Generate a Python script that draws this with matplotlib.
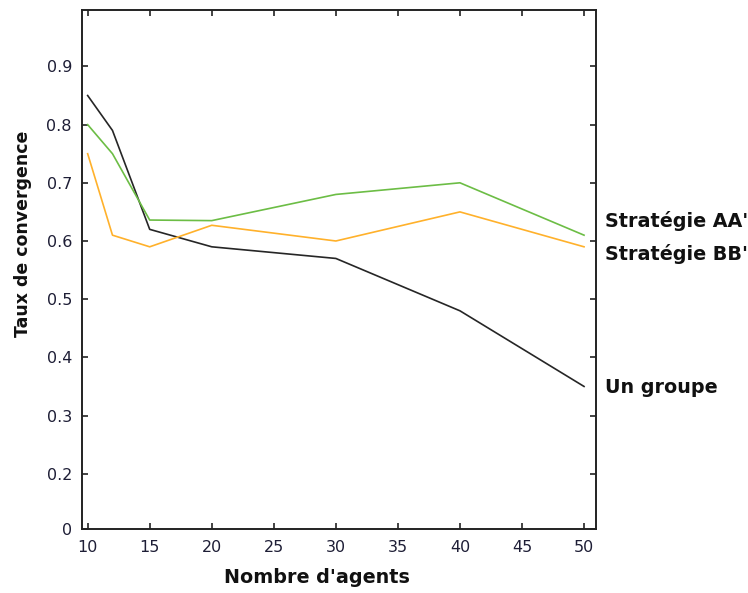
import matplotlib
matplotlib.use("Agg")
import matplotlib.pyplot as plt

agents = [10, 12, 15, 20, 30, 40, 50]
un_groupe = [0.85, 0.79, 0.62, 0.59, 0.57, 0.48, 0.35]
strategie_aa = [0.80, 0.75, 0.636, 0.635, 0.68, 0.70, 0.61]
strategie_bb = [0.75, 0.61, 0.59, 0.627, 0.60, 0.65, 0.59]

x_ticks = [10, 15, 20, 25, 30, 35, 40, 45, 50]
y_ticks = [0.105, 0.2, 0.3, 0.4, 0.5, 0.6, 0.7, 0.8, 0.9]
y_tick_labels = ["0", "0.2", "0.3", "0.4", "0.5", "0.6", "0.7", "0.8", "0.9"]

series_labels = ["Stratégie AA'", "Stratégie BB'", "Un groupe"]

W, H = 748, 593
fig = plt.figure(figsize=(W / 100, H / 100), dpi=100)
ax = fig.add_axes([81.7 / W, 1 - 529 / H, 514 / W, 519 / H])

ax.plot(agents, un_groupe, color="#262626", lw=1.2)
ax.plot(agents, strategie_aa, color="#6cbd45", lw=1.2)
ax.plot(agents, strategie_bb, color="#ffb12b", lw=1.2)

ax.set_xlim(9.52, 50.94)
ax.set_ylim(0.105, 0.997)
ax.set_xticks(x_ticks)
ax.set_yticks(y_ticks)
ax.set_yticklabels(y_tick_labels)

for s in ax.spines.values():
    s.set_linewidth(1.4)
    s.set_color("#222222")

ax.tick_params(direction="in", length=4.5, width=1.2, top=True, right=True,
               labelsize=11.5, colors="#222222")
ax.tick_params(axis="both", labelcolor="#1e1e36")
ax.tick_params(axis="x", pad=8)
ax.tick_params(axis="y", pad=7)

bold = dict(family="DejaVu Sans", weight="bold")
ax.set_xlabel("Nombre d'agents", fontsize=13.8, color="#111111", **bold)
ax.xaxis.label.set_va("baseline")
ax.xaxis.set_label_coords((317 - 81.7) / 514, (529 - 583) / 519)
ax.set_ylabel("Taux de convergence", fontsize=12.5, color="#111111", **bold)
ax.yaxis.label.set_va("center")
ax.yaxis.set_label_coords((23 - 81.7) / 514, (529 - 234) / 519)

label_baselines = [227, 260, 393]
for txt, yb in zip(series_labels, label_baselines):
    fig.text(605 / W, 1 - yb / H, txt, fontsize=13.8, ha="left", va="baseline",
             color="#111111", **bold)

fig.savefig("out.png", dpi=100)
